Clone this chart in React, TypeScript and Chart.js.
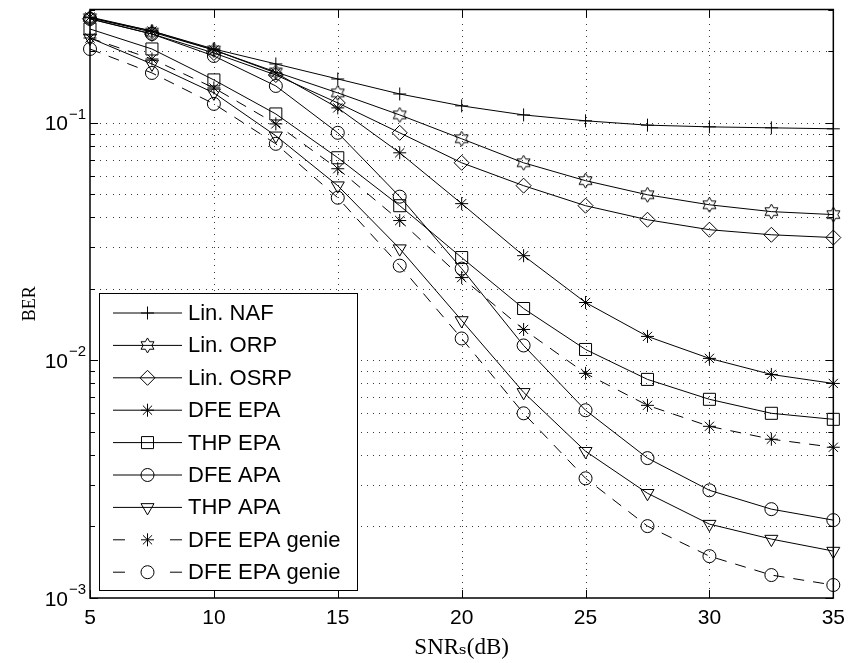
import React, { useEffect, useRef } from 'react';
import { Chart, registerables } from 'chart.js';
import { drawPoint } from 'chart.js/helpers';

Chart.register(...registerables);

// ---- data ----
const snr = [5, 7.5, 10, 12.5, 15, 17.5, 20, 22.5, 25, 27.5, 30, 32.5, 35];
const linNAF = [0.277, 0.2435, 0.2046, 0.177, 0.153, 0.1323, 0.1179, 0.108, 0.102, 0.0978, 0.0962, 0.0953, 0.0944];
const linORP = [0.277, 0.241, 0.2026, 0.1637, 0.1337, 0.108, 0.0857, 0.0679, 0.0571, 0.0498, 0.0452, 0.0423, 0.0411];
const linOSRP = [0.274, 0.2366, 0.1968, 0.159, 0.1213, 0.0908, 0.0679, 0.0544, 0.0448, 0.0391, 0.0355, 0.0338, 0.0329];
const dfeEPA = [0.279, 0.2435, 0.2026, 0.1622, 0.1156, 0.0748, 0.0457, 0.0276, 0.01753, 0.01262, 0.0102, 0.00873, 0.008];
const thpEPA = [0.2483, 0.2046, 0.1516, 0.109, 0.0713, 0.0448, 0.0271, 0.01654, 0.01112, 0.00832, 0.00686, 0.00599, 0.00565];
const dfeAPA = [0.274, 0.2366, 0.1912, 0.143, 0.0908, 0.0489, 0.02435, 0.01156, 0.00617, 0.00388, 0.00284, 0.002366, 0.002127];
const thpAPA = [0.2276, 0.177, 0.1337, 0.0882, 0.0544, 0.02955, 0.01473, 0.00734, 0.004147, 0.00276, 0.002046, 0.00177, 0.001576];
const dfeEPAGenieStar = [0.2276, 0.1857, 0.1403, 0.099, 0.0641, 0.0388, 0.02232, 0.0135, 0.00882, 0.00647, 0.00528, 0.00466, 0.00431];
const dfeEPAGenieCircle = [0.2046, 0.1622, 0.1202, 0.0816, 0.0484, 0.02506, 0.01237, 0.00599, 0.00319, 0.002007, 0.0015, 0.001249, 0.001134];

const seriesLabels = ['Lin. NAF', 'Lin. ORP', 'Lin. OSRP', 'DFE EPA', 'THP EPA', 'DFE APA', 'THP APA', 'DFE EPA genie', 'DFE EPA genie'];
const xTickValues = [5, 10, 15, 20, 25, 30, 35];
const yMin = 0.001;
const yMax = 0.3;
const yLabelExponents = ['−1', '−2', '−3'];
const yLabelValues = [0.1, 0.01, 0.001];

function isDecade(v: number) {
  const lg = Math.log10(v);
  return Math.abs(lg - Math.round(lg)) < 1e-9;
}

function makeHexagram(): HTMLCanvasElement {
  const c = document.createElement('canvas');
  c.width = 19;
  c.height = 19;
  const g = c.getContext('2d')!;
  const R = 7.5;
  const r = R / Math.sqrt(3);
  g.beginPath();
  for (let i = 0; i < 12; i++) {
    const a = -Math.PI / 2 + (i * Math.PI) / 6;
    const rad = i % 2 === 0 ? R : r;
    const px = 9.5 + rad * Math.cos(a);
    const py = 9.5 + rad * Math.sin(a);
    if (i === 0) g.moveTo(px, py);
    else g.lineTo(px, py);
  }
  g.closePath();
  g.strokeStyle = '#000';
  g.lineWidth = 1;
  g.stroke();
  return c;
}

// dotted MATLAB-style grid, drawn at the scales' tick positions
const gridPlugin = {
  id: 'matlabGrid',
  beforeDatasetsDraw(chart: any) {
    const { ctx, chartArea } = chart;
    const { left, right, top, bottom } = chartArea;
    const xs = chart.scales.x;
    const ys = chart.scales.y;
    ctx.save();
    ctx.fillStyle = '#3a3a3a';
    xs.ticks.forEach((t: any) => {
      const px = Math.round(xs.getPixelForValue(t.value));
      if (px <= left + 1 || px >= right - 1) return;
      for (let y = bottom - 4; y > top + 1; y -= 6.2) ctx.fillRect(px, Math.round(y), 1, 1);
    });
    ys.ticks.forEach((t: any) => {
      const py = Math.round(ys.getPixelForValue(t.value));
      if (py <= top + 1 || py >= bottom - 1) return;
      for (let x = left + 4; x < right - 1; x += 6.2) ctx.fillRect(Math.round(x), py, 1, 1);
    });
    ctx.restore();
  },
};

const framePlugin = {
  id: 'matlabFrame',
  afterDatasetsDraw(chart: any) {
    const { ctx, chartArea } = chart;
    const { left, right, top, bottom } = chartArea;
    const xs = chart.scales.x;
    const ys = chart.scales.y;
    ctx.save();
    ctx.setLineDash([]);
    ctx.strokeStyle = '#000';
    ctx.lineWidth = 1;
    ctx.beginPath();
    xs.ticks.forEach((t: any) => {
      const px = Math.round(xs.getPixelForValue(t.value)) + 0.5;
      ctx.moveTo(px, bottom);
      ctx.lineTo(px, bottom - 8);
      ctx.moveTo(px, top);
      ctx.lineTo(px, top + 8);
    });
    ys.ticks.forEach((t: any) => {
      const py = Math.round(ys.getPixelForValue(t.value)) + 0.5;
      const len = isDecade(t.value) ? 8 : 5;
      ctx.moveTo(left, py);
      ctx.lineTo(left + len, py);
      ctx.moveTo(right, py);
      ctx.lineTo(right - len, py);
    });
    ctx.stroke();
    ctx.lineWidth = 1.5;
    ctx.strokeRect(left, top, right - left, bottom - top);

    // y tick labels 10^n with real superscripts
    ctx.fillStyle = '#000';
    ctx.textBaseline = 'alphabetic';
    yLabelValues.forEach((v, i) => {
      const py = ys.getPixelForValue(v);
      ctx.font = '21px "Liberation Sans", Arial, sans-serif';
      ctx.textAlign = 'right';
      ctx.fillText('10', left - 22, py + 7.5);
      ctx.font = '15px "Liberation Sans", Arial, sans-serif';
      ctx.textAlign = 'left';
      ctx.fillText(yLabelExponents[i], left - 21, py - 4);
    });
    ctx.restore();
  },
};

const legendPlugin = {
  id: 'matlabLegend',
  afterDraw(chart: any) {
    const ctx = chart.ctx;
    const L = 99, T = 293, R = 357, B = 590;
    ctx.save();
    ctx.fillStyle = '#fff';
    ctx.fillRect(L, T, R - L, B - T);
    ctx.strokeStyle = '#000';
    ctx.lineWidth = 1;
    ctx.setLineDash([]);
    ctx.strokeRect(L + 0.5, T + 0.5, R - L, B - T);
    chart.data.datasets.forEach((ds: any, i: number) => {
      const y = 313 + i * 32.4;
      ctx.strokeStyle = '#000';
      ctx.lineWidth = 1;
      ctx.setLineDash([]);
      ctx.beginPath();
      if (ds.borderDash && ds.borderDash.length) {
        ctx.moveTo(113, y);
        ctx.lineTo(125, y);
        ctx.moveTo(170, y);
        ctx.lineTo(182, y);
      } else {
        ctx.moveTo(113, y);
        ctx.lineTo(182, y);
      }
      ctx.stroke();
      ctx.fillStyle = 'rgba(0,0,0,0)';
      drawPoint(ctx, {
        pointStyle: ds.pointStyle,
        rotation: ds.pointRotation || 0,
        radius: ds.pointRadius,
        borderWidth: 1,
      } as any, 147.5, y);
      ctx.fillStyle = '#000';
      ctx.font = '22px "Liberation Sans", Arial, sans-serif';
      ctx.textAlign = 'left';
      ctx.textBaseline = 'middle';
      ctx.fillText(seriesLabels[i], 188, y + 1);
    });
    ctx.restore();
  },
};

export default function App() {
  const canvasRef = useRef<HTMLCanvasElement | null>(null);

  useEffect(() => {
    const canvas = canvasRef.current;
    if (!canvas) return;
    const hexagram = makeHexagram();
    const seriesValues = [linNAF, linORP, linOSRP, dfeEPA, thpEPA, dfeAPA, thpAPA, dfeEPAGenieStar, dfeEPAGenieCircle];
    const styles: any[] = [
      { pointStyle: 'cross', pointRadius: 6.5 },
      { pointStyle: hexagram, pointRadius: 7 },
      { pointStyle: 'rectRot', pointRadius: 7.5 },
      { pointStyle: 'star', pointRadius: 6.5 },
      { pointStyle: 'rect', pointRadius: 8.5 },
      { pointStyle: 'circle', pointRadius: 6.5 },
      { pointStyle: 'triangle', pointRadius: 7.5, pointRotation: 180 },
      { pointStyle: 'star', pointRadius: 6.5, borderDash: [11, 9] },
      { pointStyle: 'circle', pointRadius: 6.5, borderDash: [11, 9] },
    ];
    const datasets = seriesValues.map((vals, i) => ({
      label: seriesLabels[i],
      data: snr.map((x, j) => ({ x, y: vals[j] })),
      borderColor: '#000',
      borderWidth: 1,
      pointBorderColor: '#000',
      pointBackgroundColor: 'rgba(0,0,0,0)',
      pointBorderWidth: 1,
      pointHoverRadius: styles[i].pointRadius,
      pointRotation: 0,
      borderDash: [],
      tension: 0,
      fill: false,
      clip: false,
      ...styles[i],
    }));

    const chart = new Chart(canvas, {
      type: 'line',
      data: { datasets },
      options: {
        animation: false,
        responsive: false,
        events: [],
        layout: { padding: { left: 0, right: 16, top: 8, bottom: 0 } },
        plugins: {
          legend: { display: false },
          tooltip: { enabled: false },
        },
        scales: {
          x: {
            type: 'linear',
            min: 5,
            max: 35,
            afterBuildTicks: (scale: any) => {
              scale.ticks = xTickValues.map((v) => ({ value: v }));
            },
            afterFit: (scale: any) => {
              scale.height = 65;
            },
            ticks: {
              color: '#000',
              font: { family: '"Liberation Sans", Arial, sans-serif', size: 21 },
              padding: 8,
              maxRotation: 0,
              autoSkip: false,
            },
            grid: { display: false, drawTicks: false },
            border: { display: false },
            title: {
              display: true,
              text: 'SNRₛ(dB)',
              color: '#000',
              font: { family: '"Liberation Serif", "DejaVu Serif", serif', size: 23 },
              padding: { top: 0, bottom: 1 },
            },
          },
          y: {
            type: 'logarithmic',
            min: yMin,
            max: yMax,
            afterBuildTicks: (scale: any) => {
              scale.ticks = scale.ticks.filter((t: any) => {
                const e = Math.floor(Math.log10(t.value) + 1e-9);
                const s = t.value / Math.pow(10, e);
                return Math.abs(s - Math.round(s)) < 1e-6;
              });
            },
            afterFit: (scale: any) => {
              scale.width = 90;
              scale.paddingTop = 0;
              scale.paddingBottom = 0;
            },
            ticks: { display: false, autoSkip: false },
            grid: { display: false, drawTicks: false },
            border: { display: false },
            title: {
              display: true,
              text: 'BER',
              color: '#000',
              font: { family: '"Liberation Serif", "DejaVu Serif", serif', size: 18 },
              padding: { top: 19, bottom: 0 },
            },
          },
        },
      },
      plugins: [gridPlugin, framePlugin, legendPlugin],
    });
    return () => chart.destroy();
  }, []);

  return (
    <div style={{ position: 'absolute', left: 0, top: 0, width: 853, height: 663, background: '#fff' }}>
      <canvas ref={canvasRef} width={853} height={663} style={{ display: 'block', width: 853, height: 663 }} />
    </div>
  );
}
